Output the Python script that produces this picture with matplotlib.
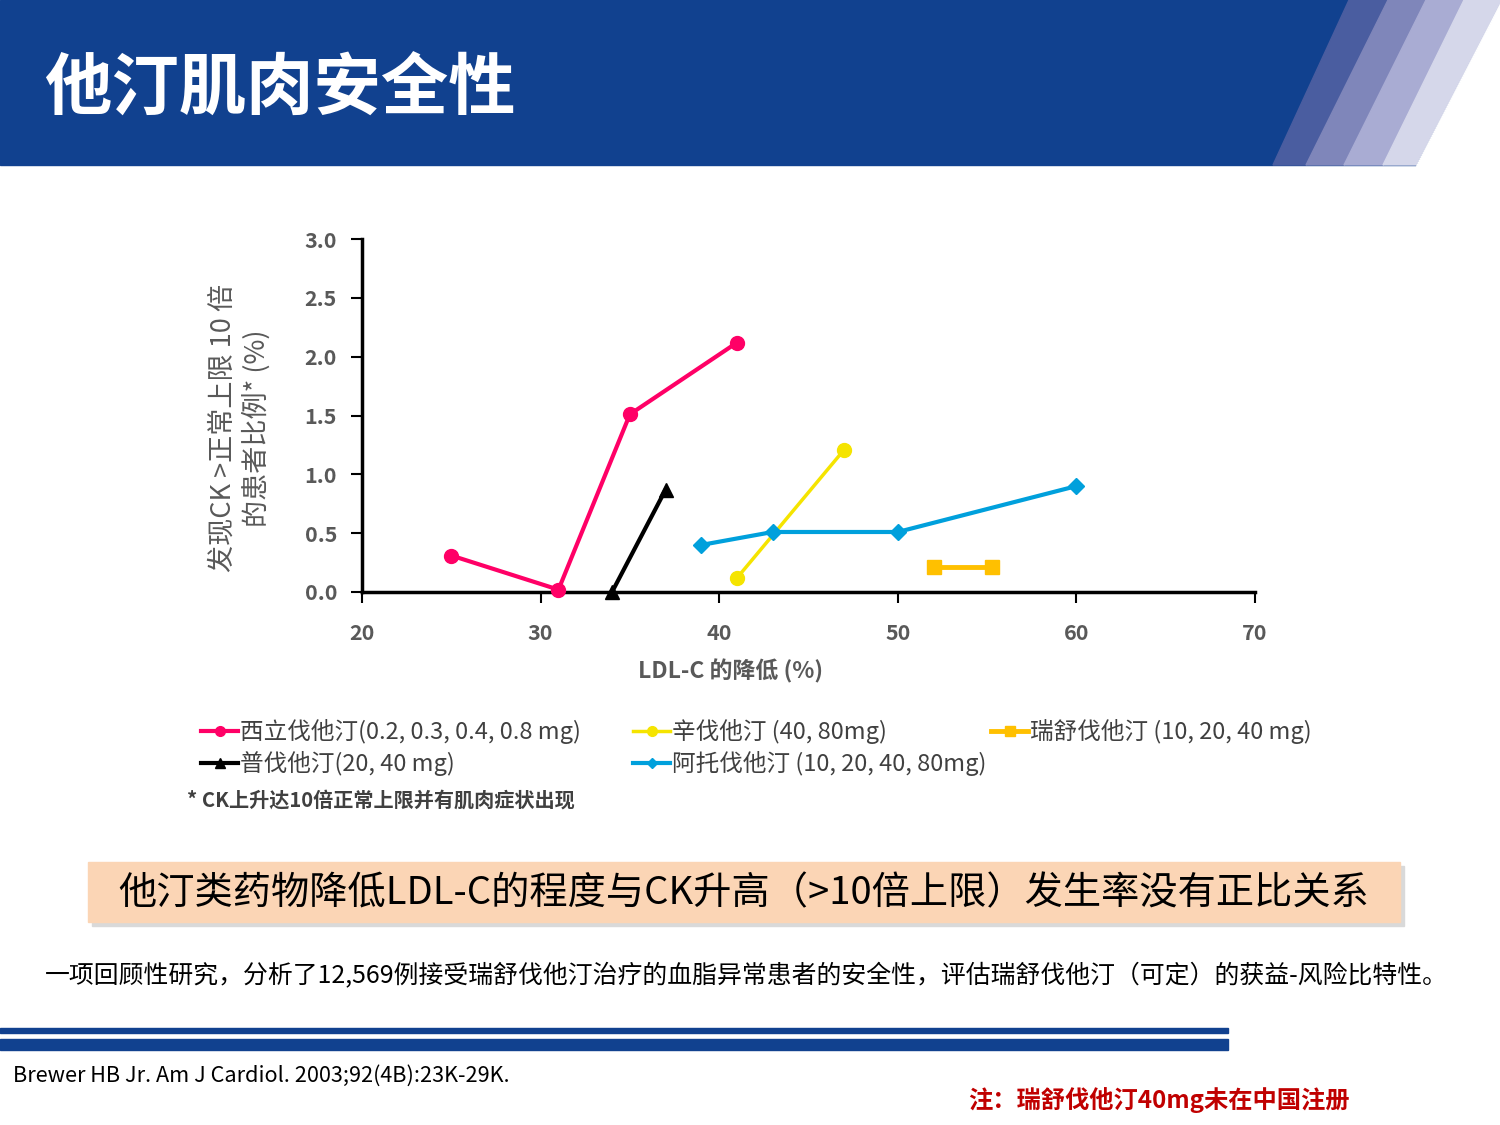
import matplotlib
matplotlib.use("Agg")
import matplotlib.pyplot as plt
from matplotlib.patches import Rectangle, Polygon

plt.rcParams['font.family'] = ['Noto Sans CJK SC', 'DejaVu Sans']

# ---- data ----
ceri_x = [25, 31, 35, 41]
ceri_y = [0.31, 0.02, 1.51, 2.12]
prava_x = [34, 37]
prava_y = [0.0, 0.87]
simva_x = [41, 47]
simva_y = [0.12, 1.21]
atorva_x = [39, 43, 50, 60]
atorva_y = [0.40, 0.51, 0.51, 0.90]
rosu_x = [52, 55.3]
rosu_y = [0.21, 0.21]

labels = ['西立伐他汀(0.2, 0.3, 0.4, 0.8 mg)', '普伐他汀(20, 40 mg)',
          '辛伐他汀 (40, 80mg)', '阿托伐他汀 (10, 20, 40, 80mg)',
          '瑞舒伐他汀 (10, 20, 40 mg)']
xticks = [20, 30, 40, 50, 60, 70]
yticks = [0.0, 0.5, 1.0, 1.5, 2.0, 2.5, 3.0]

W, H = 1500, 1125
fig = plt.figure(figsize=(15, 11.25), dpi=100)

def P(x, y):
    return (x / W, 1 - y / H)

# ---- header ----
blue = '#11418F'
fig.patches.append(Rectangle(P(0, 165), 1, 165 / H, transform=fig.transFigure,
                             color=blue, zorder=0))
top = [1349, 1388, 1426, 1464, 1502]
bot = [1273, 1306, 1344, 1383, 1416]
cols = ['#4A5DA0', '#7F86BA', '#A9ACD3', '#D5D7EA']
for i, c in enumerate(cols):
    poly = [P(top[i], 0), P(top[i + 1], 0), P(bot[i + 1], 165), P(bot[i], 165)]
    fig.patches.append(Polygon(poly, closed=True, transform=fig.transFigure,
                               color=c, zorder=1))
fig.patches.append(Polygon([P(1502, 0), P(1510, 0), P(1510, 166), P(1416, 166)],
                           closed=True, transform=fig.transFigure, color='white', zorder=1))
fig.text(*P(44, 90), '他汀肌肉安全性', color='white', fontsize=48.5, fontweight='bold',
         va='center', ha='left')

# ---- axes ----
ax = fig.add_axes([362 / W, 1 - 592 / H, (1255 - 362) / W, (592 - 239) / H])
h0, = ax.plot(ceri_x, ceri_y, color='#FF0066', lw=3, marker='o', ms=10, label=labels[0], clip_on=False, zorder=5)
h1, = ax.plot(prava_x, prava_y, color='black', lw=3, marker='^', ms=10, label=labels[1], clip_on=False, zorder=5)
h2, = ax.plot(simva_x, simva_y, color='#F5E400', lw=2.5, marker='o', ms=10, label=labels[2], clip_on=False, zorder=5)
h3, = ax.plot(atorva_x, atorva_y, color='#00A0DC', lw=3, marker='D', ms=8, label=labels[3], clip_on=False, zorder=5)
h4, = ax.plot(rosu_x, rosu_y, color='#FFC000', lw=3.5, marker='s', ms=10, label=labels[4], clip_on=False, zorder=5)

ax.set_xlim(20, 70)
ax.set_ylim(0, 3.0)
ax.set_xticks(xticks)
ax.set_yticks(yticks)
ax.set_yticklabels([f'{v:.1f}' for v in yticks])
for s in ['top', 'right']:
    ax.spines[s].set_visible(False)
for s in ['left', 'bottom']:
    ax.spines[s].set_linewidth(2.5)
    ax.spines[s].set_color('black')
ax.tick_params(axis='both', direction='out', length=8, width=1.5, color='black',
               labelsize=15.5, labelcolor='#595959')
ax.tick_params(axis='x', pad=14)
ax.tick_params(axis='y', pad=10)
for t in ax.get_xticklabels() + ax.get_yticklabels():
    t.set_fontweight('bold')
ax.set_xlabel('LDL-C 的降低 (%)', fontsize=16.5, fontweight='bold', color='#595959')
ax.xaxis.set_label_coords((731 - 362) / (1255 - 362), -(671 - 592) / (592 - 239))
ax.xaxis.label.set_va('center')
ax.set_ylabel('发现CK >正常上限 10 倍\n的患者比例* (%)', fontsize=19.5, color='#595959',
              linespacing=1.25)
ax.yaxis.set_label_coords(-(362 - 240) / (1255 - 362), (592 - 428) / (592 - 239))
ax.yaxis.label.set_va('center')

# ---- legend (three columns placed like the slide) ----
groups = [([h0, h1], [labels[0], labels[1]], 180),
          ([h2, h3], [labels[2], labels[3]], 612),
          ([h4], [labels[4]], 970)]
for hs, ls, x0 in groups:
    leg = fig.legend(hs, ls, loc='upper left', bbox_to_anchor=P(x0, 698),
                     frameon=False, fontsize=17, handlelength=1.55, handletextpad=0.1,
                     labelspacing=0.3, markerscale=0.7)
    for t in leg.get_texts():
        t.set_color('#404040')

fig.text(*P(187, 800), '* CK上升达10倍正常上限并有肌肉症状出现', fontsize=14.5,
         fontweight='bold', color='#404040', va='center', ha='left')

# ---- peach box ----
fig.patches.append(Rectangle(P(92, 926), 1312 / W, 60 / H, transform=fig.transFigure,
                             color='#D9D9D9', zorder=0))
fig.patches.append(Rectangle(P(88, 922), 1312 / W, 60 / H, transform=fig.transFigure,
                             color='#FBD5B5', zorder=1))
fig.text(*P(744, 894), '他汀类药物降低LDL-C的程度与CK升高（>10倍上限）发生率没有正比关系',
         fontsize=27.5, color='black', va='center', ha='center')

fig.text(*P(45, 976), '一项回顾性研究，分析了12,569例接受瑞舒伐他汀治疗的血脂异常患者的安全性，评估瑞舒伐他汀（可定）的获益-风险比特性。',
         fontsize=17.9, color='black', va='center', ha='left')

# ---- bottom lines ----
fig.patches.append(Rectangle(P(0, 1033), 1228 / W, 5 / H, transform=fig.transFigure,
                             color=blue, zorder=1))
fig.patches.append(Rectangle(P(0, 1050), 1228 / W, 11 / H, transform=fig.transFigure,
                             color=blue, zorder=1))

fig.text(*P(13, 1076), 'Brewer HB Jr. Am J Cardiol. 2003;92(4B):23K-29K.', fontsize=15.6,
         color='black', va='center', ha='left')
fig.text(*P(968, 1100), '注：瑞舒伐他汀40mg未在中国注册', fontsize=17.5, fontweight='bold',
         color='#C00000', va='center', ha='left')

fig.savefig('out.png', dpi=100)
